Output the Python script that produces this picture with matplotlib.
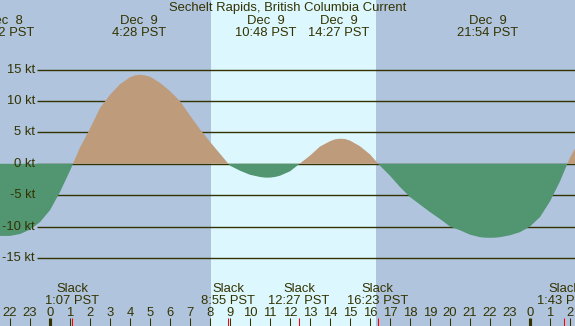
import matplotlib
matplotlib.use("Agg")
import matplotlib.pyplot as plt

# hours since Dec 9 00:00 PST, current speed (kt)
hours = [-2.5, -2.0, -1.5, -1.0, -0.5, 0.0, 0.5, 1.0, 1.5, 2.0, 2.5, 3.0,
         3.5, 4.0, 4.25, 4.5, 4.75, 5.0, 5.5, 6.0, 6.5, 7.0, 7.5, 8.0, 8.5,
         9.0, 9.5, 10.0, 10.5, 10.75, 11.0, 11.25, 11.5, 12.0, 12.5, 13.0,
         13.5, 14.0, 14.25, 14.5, 14.75, 15.0, 15.5, 16.0, 16.5, 17.0, 17.5,
         18.0, 18.5, 19.0, 19.5, 20.0, 20.5, 21.0, 21.5, 21.75, 22.0, 22.25,
         22.5, 23.0, 23.5, 24.0, 24.5, 25.0, 25.5, 26.0, 26.5]
speed = [-11.5, -11.5, -11.2, -10.5, -9.3, -7.4, -4.5, -1.1, 2.6, 5.6, 8.9,
         11.0, 12.7, 13.8, 14.1, 14.2, 14.1, 13.9, 12.9, 11.6, 10.0, 7.7, 5.5,
         3.5, 1.6, -0.3, -1.1, -1.75, -2.1, -2.2, -2.2, -2.1, -1.9, -1.2,
         0.05, 1.3, 2.75, 3.6, 3.9, 4.0, 3.95, 3.7, 2.8, 1.5, -0.3, -1.9,
         -3.7, -5.3, -6.5, -7.7, -8.8, -10.0, -10.6, -11.3, -11.7, -11.78,
         -11.8, -11.78, -11.7, -11.4, -10.9, -10.0, -8.5, -6.0, -2.8, 1.0, 3.8]

# max / min current events
peak_hours = [-2.3, 4.467, 10.8, 14.45, 21.9]
peak_days = ["Dec  8", "Dec  9", "Dec  9", "Dec  9", "Dec  9"]
peak_labels = ["21:42 PST", "4:28 PST", "10:48 PST", "14:27 PST", "21:54 PST"]

# slack water
slack_hours = [1.117, 8.917, 12.45, 16.383, 25.717]
slack_labels = ["1:07 PST", "8:55 PST", "12:27 PST", "16:23 PST", "1:43 PST"]

sunrise, sunset = 8.05, 16.3
grid_kt = [15, 10, 5, 0, -5, -10, -15]
hour_ticks = list(range(-2, 27))
hour_labels = [str(h % 24) for h in hour_ticks]

ink = "#333300"
night = "#b0c4de"
day = "#ddf7ff"
flood = "#bd9b7b"
ebb = "#519571"

plt.rcParams['font.family'] = ['Liberation Sans', 'DejaVu Sans']
fs = 9.4

W, H = 575, 326
fig = plt.figure(figsize=(W / 100, H / 100), dpi=100)
ax = fig.add_axes([0, 0, 1, 1])
ax.set_facecolor(night)
x0 = -2.5
x1 = x0 + W / 20.0
ax.set_xlim(x0, x1)
ax.set_ylim(-(H - 163.8) / 6.27, 163.8 / 6.27)
ax.axis("off")
ax.add_patch(plt.Rectangle((x0, -30), x1 - x0, 60, color=night, zorder=0))

ax.axvspan(sunrise, sunset, color=day, zorder=1, lw=0)

xt = ax.get_xaxis_transform()

def ypix(p):
    return 1 - p / H

for g in grid_kt:
    ax.hlines(g, -0.65, x1, color=ink, lw=1, zorder=2)
    ax.text(-0.75, g, "%d kt" % g, ha="right", va="center",
            color=ink, fontsize=fs, zorder=5)

ax.fill_between(hours, speed, 0, where=[s >= 0 for s in speed],
                interpolate=True, color=flood, lw=0, zorder=3)
ax.fill_between(hours, speed, 0, where=[s <= 0 for s in speed],
                interpolate=True, color=ebb, lw=0, zorder=3)

ax.text((x0 + x1) / 2, ypix(11.5), "Sechelt Rapids, British Columbia Current",
        transform=xt, ha="center", va="baseline", color=ink, fontsize=fs,
        zorder=6)

for h, d, t in zip(peak_hours, peak_days, peak_labels):
    ax.text(h, ypix(24), d, transform=xt, ha="center", va="baseline",
            color=ink, fontsize=fs, zorder=6)
    ax.text(h, ypix(35.7), t, transform=xt, ha="center", va="baseline",
            color=ink, fontsize=fs, zorder=6)

for h, t in zip(slack_hours, slack_labels):
    ax.text(h, ypix(292), "Slack", transform=xt, ha="center",
            va="baseline", color=ink, fontsize=fs, zorder=6)
    ax.text(h, ypix(304), t, transform=xt, ha="center", va="baseline",
            color=ink, fontsize=fs, zorder=6)

for h, lab in zip(hour_ticks, hour_labels):
    ax.text(h, ypix(316), lab, transform=xt, ha="center", va="baseline",
            color=ink, fontsize=fs, zorder=6)
    lw = 3 if h % 24 == 0 else 1
    ax.vlines(h, 0, ypix(318), transform=xt, color=ink, lw=lw * 0.75,
              zorder=6)

ax.vlines(slack_hours, 0, ypix(318), transform=xt, color="red", lw=0.75,
          zorder=7)

fig.savefig("out.png", dpi=100)
